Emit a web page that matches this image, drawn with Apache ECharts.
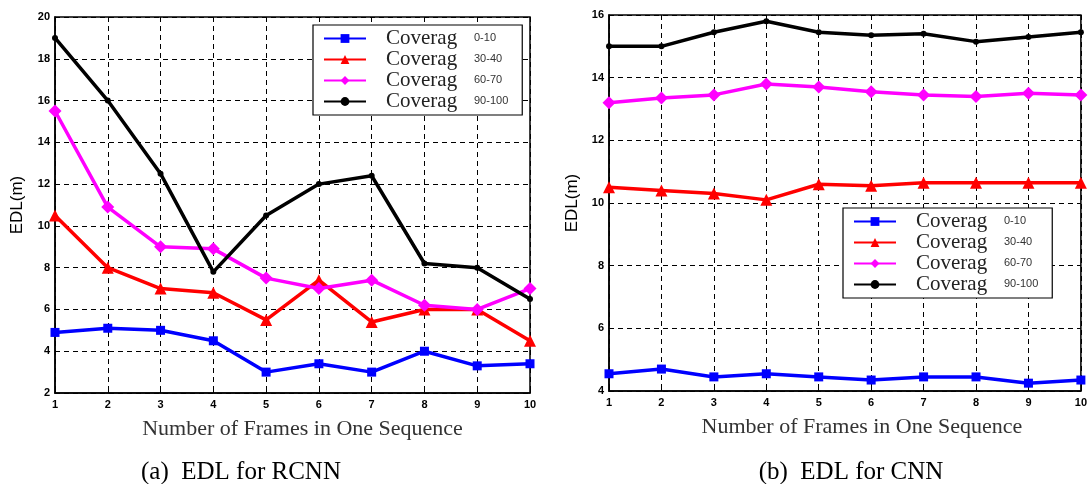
<!DOCTYPE html>
<html>
<head>
<meta charset="utf-8">
<script src="https://cdn.jsdelivr.net/npm/echarts@6/dist/echarts.min.js"></script>
<style>
  html, body { margin: 0; padding: 0; background: #fff; }
  #chart { width: 1090px; height: 484px; }
</style>
</head>
<body>
<div id="chart"></div>
<script>
// frames per sequence (x axis, both panels)
const frames = [1, 2, 3, 4, 5, 6, 7, 8, 9, 10]
const seriesNames = ['Coverag 0-10', 'Coverag 30-40', 'Coverag 60-70', 'Coverag 90-100']

// (a) EDL for RCNN
const rcnn0_10 = [4.9, 5.1, 5.0, 4.5, 3.0, 3.4, 3.0, 4.0, 3.3, 3.4]
const rcnn30_40 = [10.5, 8.0, 7.0, 6.8, 5.5, 7.4, 5.4, 6.0, 6.0, 4.5]
const rcnn60_70 = [15.5, 10.9, 9.0, 8.9, 7.5, 7.0, 7.4, 6.2, 6.0, 7.0]
const rcnn90_100 = [19.0, 16.0, 12.5, 7.8, 10.5, 12.0, 12.4, 8.2, 8.0, 6.5]

// (b) EDL for CNN
const cnn0_10 = [4.55, 4.7, 4.45, 4.55, 4.45, 4.35, 4.45, 4.45, 4.25, 4.35]
const cnn30_40 = [10.5, 10.4, 10.3, 10.1, 10.6, 10.55, 10.65, 10.65, 10.65, 10.65]
const cnn60_70 = [13.2, 13.35, 13.45, 13.8, 13.7, 13.55, 13.45, 13.4, 13.5, 13.45]
const cnn90_100 = [15.0, 15.0, 15.45, 15.8, 15.45, 15.35, 15.4, 15.15, 15.3, 15.45]

const styles = [
  { color: '#0000ff', symbol: 'rect', symbolSize: 9 },
  { color: '#ff0000', symbol: 'triangle', symbolSize: 12 },
  { color: '#ff00ff', symbol: 'diamond', symbolSize: 13 },
  { color: '#000000', symbol: 'circle', symbolSize: 6 },
]

const pairs = (vals) => frames.map((f, i) => [f, vals[i]])

const makeSeries = (idx, lists) =>
  lists.map((vals, i) => ({
    name: seriesNames[i],
    type: 'line',
    xAxisIndex: idx,
    yAxisIndex: idx,
    data: pairs(vals),
    symbol: styles[i].symbol,
    symbolSize: styles[i].symbolSize,
    lineStyle: { color: styles[i].color, width: 3.5 },
    itemStyle: { color: styles[i].color },
    animation: false,
    z: 5 + i,
  }))

const tickFont = { color: '#000', fontSize: 11, fontWeight: 'bold', fontFamily: 'Liberation Sans' }
const dashed = { color: '#000', width: 1, type: [5, 4] }

const xAxisCfg = (idx, shift) => ({
  type: 'value',
  gridIndex: idx,
  min: 1,
  max: 10,
  interval: 1,
  name: 'Number of Frames in One Sequence',
  nameLocation: 'middle',
  nameGap: 25,
  nameTextStyle: { color: '#333', fontSize: 22, fontFamily: 'Liberation Serif', padding: [0, 0, 0, shift] },
  axisLine: { show: true, lineStyle: { color: '#000', width: 1.5 } },
  axisTick: { show: true, inside: true, length: 4, lineStyle: { color: '#000' } },
  axisLabel: Object.assign({ margin: 6 }, tickFont),
  splitLine: { show: true, lineStyle: dashed },
})

const yAxisCfg = (idx, min, max, gap) => ({
  type: 'value',
  gridIndex: idx,
  min: min,
  max: max,
  interval: 2,
  name: 'EDL(m)',
  nameLocation: 'middle',
  nameGap: gap,
  nameTextStyle: { color: '#000', fontSize: 17, fontFamily: 'Liberation Sans' },
  axisLine: { show: true, lineStyle: { color: '#000', width: 1.5 } },
  axisTick: { show: true, inside: true, length: 4, lineStyle: { color: '#000' } },
  axisLabel: Object.assign({ margin: 5 }, tickFont),
  splitLine: { show: true, lineStyle: dashed },
})

const legendCfg = (left, top) => ({
  orient: 'vertical',
  left: left,
  top: top,
  data: seriesNames,
  itemWidth: 42,
  itemHeight: 11,
  itemGap: 0,
  backgroundColor: '#fff',
  borderColor: '#000',
  borderWidth: 1.2,
  borderRadius: 0,
  padding: [3, 14, 3, 10],
  selectedMode: false,
  formatter: (name) => {
    const parts = name.split(' ')
    return '{a|' + parts[0] + '}{b|' + parts[1] + '}'
  },
  textStyle: {
    rich: {
      a: { fontFamily: 'Liberation Serif', fontSize: 21, color: '#222', lineHeight: 20.5, padding: [0, 0, 0, 15], width: 88 },
      b: { fontFamily: 'Liberation Sans', fontSize: 11, color: '#333', padding: [0, 0, 2, 0] },
    },
  },
})

const chart = echarts.init(document.getElementById('chart'), null, { renderer: 'canvas' })

chart.setOption({
  backgroundColor: '#fff',
  animation: false,
  title: [
    {
      text: '(a)  EDL for RCNN',
      left: 236,
      top: 455,
      textAlign: 'center',
      textStyle: { fontFamily: 'Liberation Serif', fontSize: 25, fontWeight: 'normal', color: '#000' },
    },
    {
      text: '(b)  EDL for CNN',
      left: 846,
      top: 455,
      textAlign: 'center',
      textStyle: { fontFamily: 'Liberation Serif', fontSize: 25, fontWeight: 'normal', color: '#000' },
    },
  ],
  grid: [
    { left: 55, top: 17, right: 560, bottom: 91, show: true, borderColor: '#000', borderWidth: 1.5 },
    { left: 609, top: 15, right: 5, bottom: 93, show: true, borderColor: '#000', borderWidth: 1.5 },
  ],
  legend: [legendCfg(313, 25), legendCfg(843, 208)],
  xAxis: [xAxisCfg(0, 20), xAxisCfg(1, 34)],
  yAxis: [yAxisCfg(0, 2, 20, 29), yAxisCfg(1, 4, 16, 28)],
  series: [
    ...makeSeries(0, [rcnn0_10, rcnn30_40, rcnn60_70, rcnn90_100]),
    ...makeSeries(1, [cnn0_10, cnn30_40, cnn60_70, cnn90_100]),
  ],
})
</script>
</body>
</html>
